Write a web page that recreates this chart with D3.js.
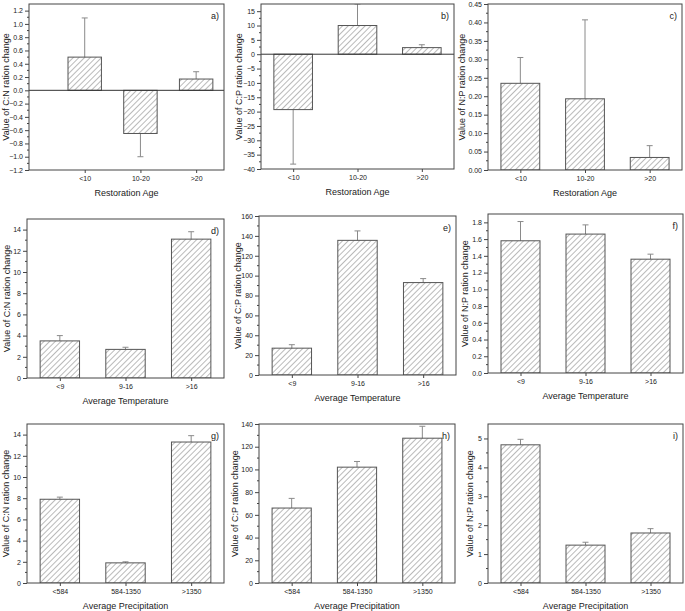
<!DOCTYPE html>
<html>
<head>
<meta charset="utf-8">
<script src="https://cdn.jsdelivr.net/npm/d3@7"></script>
<style>
  body { margin: 0; background: #fff; }
  text { font-family: "Liberation Sans", Arial, sans-serif; fill: #222; }
</style>
</head>
<body>
<div id="chart"></div>
<script>
// categories
var ageCats = ["<10", "10-20", ">20"]
var tempCats = ["<9", "9-16", ">16"]
var precCats = ["<584", "584-1350", ">1350"]

// values, error = length of one-sided bar
var cnAge = [0.50, -0.65, 0.17],   cnAgeErr = [0.59, 0.35, 0.11]
var cpAge = [-19.3, 10.0, 2.3],    cpAgeErr = [19.0, 7.5, 1.0]
var npAge = [0.235, 0.193, 0.034], npAgeErr = [0.07, 0.214, 0.032]

var cnTemp = [3.5, 2.7, 13.1],     cnTempErr = [0.5, 0.2, 0.7]
var cpTemp = [27, 135.5, 93],      cpTempErr = [3.5, 9.5, 4]
var npTemp = [1.58, 1.66, 1.36],   npTempErr = [0.23, 0.11, 0.06]

var cnPrec = [7.9, 1.9, 13.3],     cnPrecErr = [0.2, 0.1, 0.6]
var cpPrec = [66, 102, 127.5],     cpPrecErr = [8.5, 5, 10.5]
var npPrec = [4.78, 1.31, 1.73],   npPrecErr = [0.19, 0.1, 0.15]

var yTitles = ["Value of C:N ration change", "Value of C:P ration change", "Value of N:P ration change"]
var xTitles = ["Restoration Age", "Average Temperature", "Average Precipitation"]

// panel layout: frame box, y domain, tick step
var panels = [
  {tag:"a)", cats:ageCats, v:cnAge, e:cnAgeErr, yt:0, xt:0, box:[29,4,224,170], dom:[-1.2,1.3], step:0.2, fmt:".1f", xd:[0,3.5], ylx:6},
  {tag:"b)", cats:ageCats, v:cpAge, e:cpAgeErr, yt:1, xt:0, box:[261,4,454,169], dom:[-40,17.5], step:5, fmt:"d", xd:[0.5,3.5], ylx:239},
  {tag:"c)", cats:ageCats, v:npAge, e:npAgeErr, yt:2, xt:0, box:[488,4,682,170], dom:[0,0.45], step:0.05, fmt:".2f", xd:[0.5,3.5], ylx:462},
  {tag:"d)", cats:tempCats, v:cnTemp, e:cnTempErr, yt:0, xt:1, box:[27,219,224,378], dom:[0,15], step:2, fmt:"d", xd:[0.5,3.5], ylx:7},
  {tag:"e)", cats:tempCats, v:cpTemp, e:cpTempErr, yt:1, xt:1, box:[259,216,456,375], dom:[0,160], step:20, fmt:"d", xd:[0.5,3.5], ylx:238},
  {tag:"f)", cats:tempCats, v:npTemp, e:npTempErr, yt:2, xt:1, box:[488,214,683,373], dom:[0,1.9], step:0.2, fmt:".1f", xd:[0.5,3.5], ylx:465},
  {tag:"g)", cats:precCats, v:cnPrec, e:cnPrecErr, yt:0, xt:2, box:[27,424,224,583], dom:[0,15], step:2, fmt:"d", xd:[0.5,3.5], ylx:6},
  {tag:"h)", cats:precCats, v:cpPrec, e:cpPrecErr, yt:1, xt:2, box:[259,424,455,583], dom:[0,140], step:20, fmt:"d", xd:[0.5,3.5], ylx:235},
  {tag:"i)", cats:precCats, v:npPrec, e:npPrecErr, yt:2, xt:2, box:[488,424,683,583], dom:[0,5.5], step:1, fmt:"d", xd:[0.5,3.5], ylx:470}
]

var svg = d3.select("#chart").append("svg")
  .attr("width", 685).attr("height", 611)

// hatch
var defs = svg.append("defs")
defs.append("pattern")
  .attr("id", "hatch")
  .attr("patternUnits", "userSpaceOnUse")
  .attr("width", 4).attr("height", 4)
  .attr("patternTransform", "rotate(45)")
  .append("line")
  .attr("x1", 0).attr("y1", 0).attr("x2", 0).attr("y2", 4)
  .attr("stroke", "#666").attr("stroke-width", 0.9)

panels.forEach(function(p, pi){
  var L = p.box[0], T = p.box[1], R = p.box[2], B = p.box[3]
  var x = d3.scaleLinear().domain(p.xd).range([L, R])
  var y = d3.scaleLinear().domain(p.dom).range([B, T])
  var g = svg.append("g")

  defs.append("clipPath").attr("id", "clip" + pi)
    .append("rect").attr("x", L).attr("y", T).attr("width", R - L).attr("height", B - T)

  var bw = (x(1) - x(0)) * 0.6
  var data = p.v.map(function(d, i){ return {c:p.cats[i], v:d, e:p.e[i], k:i + 1} })

  var plot = g.append("g").attr("clip-path", "url(#clip" + pi + ")")

  // error bars, drawn away from zero
  data.forEach(function(d){
    var cx = x(d.k)
    var tip = d.v >= 0 ? d.v + d.e : d.v - d.e
    plot.append("line")
      .attr("x1", cx).attr("x2", cx).attr("y1", y(d.v)).attr("y2", y(tip))
      .attr("stroke", "#8a8a8a").attr("stroke-width", 1)
    plot.append("line")
      .attr("x1", cx - 3).attr("x2", cx + 3).attr("y1", y(tip)).attr("y2", y(tip))
      .attr("stroke", "#8a8a8a").attr("stroke-width", 1)
  })

  plot.selectAll("rect.bar").data(data).enter()
    .append("rect")
    .attr("class", "bar")
    .attr("x", function(d){ return x(d.k) - bw / 2 })
    .attr("width", bw)
    .attr("y", function(d){ return y(Math.max(0, d.v)) })
    .attr("height", function(d){ return Math.abs(y(d.v) - y(0)) })
    .attr("fill", "url(#hatch)")
    .attr("stroke", "#555").attr("stroke-width", 1)

  if (p.dom[0] < 0) {
    g.append("line")
      .attr("x1", L).attr("x2", R).attr("y1", y(0)).attr("y2", y(0))
      .attr("stroke", "#333").attr("stroke-width", 1)
  }

  // frame
  g.append("rect")
    .attr("x", L).attr("y", T).attr("width", R - L).attr("height", B - T)
    .attr("fill", "none").attr("stroke", "#444").attr("stroke-width", 1)

  // y axis ticks
  var n = Math.round((p.dom[1] - p.dom[0]) / p.step)
  var ticks = d3.range(0, n + 1).map(function(i){ return +(p.dom[0] + i * p.step).toFixed(4) })
    .filter(function(t){ return t <= p.dom[1] + 1e-9 })
  var minor = ticks.map(function(t){ return t + p.step / 2 }).filter(function(t){ return t < p.dom[1] })
  var yAxis = d3.axisLeft(y).tickValues(ticks).tickSize(4).tickPadding(2)
    .tickFormat(function(t){ return d3.format(p.fmt)(t) })
  var ya = g.append("g").attr("transform", "translate(" + L + ",0)").call(yAxis)
  ya.select(".domain").remove()
  ya.selectAll("line").attr("stroke", "#444")
  ya.selectAll("text").style("font-size", "7px").style("font-family", "Liberation Sans, Arial, sans-serif").attr("fill", "#222")
  minor.forEach(function(t){
    g.append("line").attr("x1", L - 2).attr("x2", L).attr("y1", y(t)).attr("y2", y(t))
      .attr("stroke", "#444")
  })

  // x axis
  var xAxis = d3.axisBottom(x).tickValues([1, 2, 3]).tickSize(3).tickPadding(3)
    .tickFormat(function(k){ return p.cats[k - 1] })
  var xa = g.append("g").attr("transform", "translate(0," + B + ")").call(xAxis)
  xa.select(".domain").remove()
  xa.selectAll("line").attr("stroke", "#444")
  xa.selectAll("text").style("font-size", "7px").style("font-family", "Liberation Sans, Arial, sans-serif").attr("fill", "#222")

  // titles
  g.append("text")
    .attr("x", (L + R) / 2).attr("y", B + 26)
    .attr("text-anchor", "middle")
    .style("font-size", "9px")
    .text(xTitles[p.xt])
  g.append("text")
    .attr("transform", "translate(" + p.ylx + "," + ((T + B) / 2) + ") rotate(-90)")
    .attr("text-anchor", "middle")
    .attr("dy", "0.35em")
    .style("font-size", "9px")
    .text(yTitles[p.yt])
  g.append("text")
    .attr("x", R - 5).attr("y", T + 15)
    .attr("text-anchor", "end")
    .style("font-size", "9px")
    .text(p.tag)
})
</script>
</body>
</html>
